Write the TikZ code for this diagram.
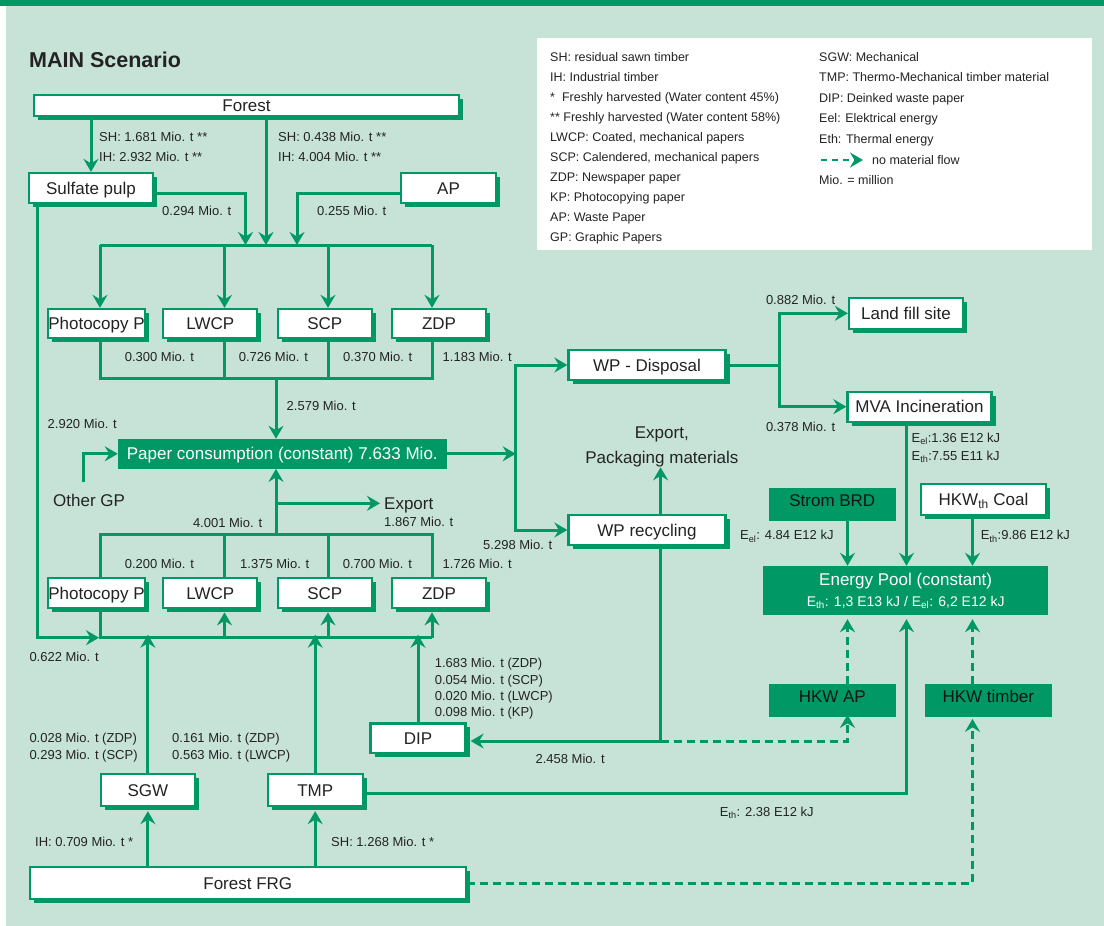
\documentclass[tikz,border=0pt]{standalone}
\usepackage{fontspec}
\setmainfont{Liberation Sans}
\usetikzlibrary{arrows.meta,shadows}
\definecolor{dgreen}{RGB}{0,153,102}
\definecolor{lbg}{RGB}{199,227,216}
\definecolor{txt}{RGB}{35,35,35}
\definecolor{dtxt}{RGB}{20,20,20}
\begin{document}
\begin{tikzpicture}[x=1pt,y=-1pt,
  wbox/.style={draw=dgreen, line width=2.3pt, fill=white, inner sep=0pt,
    general shadow={fill=dgreen, shadow xshift=4pt, shadow yshift=-4pt},
    font=\fontsize{17}{20}\selectfont, text=txt, text height=12pt, text depth=0pt},
  gbox/.style={fill=dgreen, inner sep=0pt, font=\fontsize{17}{20}\selectfont, text=dtxt, text height=12pt, text depth=0pt},
  big/.style={inner sep=0pt, font=\fontsize{17}{20}\selectfont, text=txt, text height=12pt, text depth=0pt},
  lab/.style={anchor=west, inner sep=0pt, font=\fontsize{13}{16}\selectfont, text=txt, text height=9.5pt, text depth=0pt},
  lg/.style={anchor=west, inner sep=0pt, font=\fontsize{12.5}{15}\selectfont, text=txt, text height=9pt, text depth=0pt},
  ln/.style={draw=dgreen, line width=3pt},
  arr/.style={draw=dgreen, line width=3pt, -{Stealth[length=13pt,width=15pt,inset=4.5pt]}},
  dsh/.style={dash pattern=on 8pt off 5pt}
]
\useasboundingbox (0,0) rectangle (1104,926);
\fill[white] (0,0) rectangle (1104,926);
\fill[lbg] (6,6) rectangle (1104,926);
\fill[dgreen] (0,0) rectangle (1104,6);

% title
\node[anchor=west, inner sep=0pt, font=\bfseries\fontsize{21.5}{26}\selectfont, text=txt, text height=15.5pt, text depth=0pt] (title) at (29,60) {MAIN Scenario};

% legend
\fill[white] (537,38) rectangle (1092,250);
\foreach \lbl [count=\i] in {{SH: residual sawn timber},{IH: Industrial timber},{*\ \ Freshly harvested (Water content 45\%)},{** Freshly harvested (Water content 58\%)},{LWCP: Coated, mechanical papers},{SCP: Calendered, mechanical papers},{ZDP: Newspaper paper},{KP: Photocopying paper},{AP: Waste Paper},{GP: Graphic Papers}}
  \node[lg] (lgl\i) at (550,{57+20*(\i-1)}) {\lbl};
\foreach \yy/\lbl [count=\i] in {57/{SGW: Mechanical},77/{TMP: Thermo-Mechanical timber material},98/{DIP: Deinked waste paper},118/{Eel: Elektrical energy},139/{Eth: Thermal energy},180/{Mio. = million}}
  \node[lg] (lgr\i) at (819,\yy) {\lbl};
\coordinate (lga) at (821,160);
\coordinate (lgb) at (863,160);
\draw[arr, dsh, line width=2.3pt, dash pattern=on 6pt off 5pt] (lga) -- (lgb);
\node[lg] (lgr7) at (872,160) {no material flow};

% boxes
\node[wbox, minimum width=425pt, minimum height=21pt] (forest) at (246.5,105.5) {Forest};
\node[wbox, minimum width=124pt, minimum height=30pt] (sulf) at (91,188) {Sulfate pulp};
\node[wbox, minimum width=95pt, minimum height=30pt] (ap) at (448.5,188) {AP};

\node[wbox, minimum width=95pt, minimum height=29pt] (pp1) at (96.5,323.5) {Photocopy P};
\node[wbox, minimum width=94pt, minimum height=29pt] (lw1) at (210.3,323.5) {LWCP};
\node[wbox, minimum width=94pt, minimum height=29pt] (scp1) at (324.8,323.5) {SCP};
\node[wbox, minimum width=94pt, minimum height=29pt] (zdp1) at (439,323.5) {ZDP};

\node[fill=dgreen, inner sep=0pt, minimum width=328.6pt, minimum height=29.7pt, text=white, font=\fontsize{17}{20}\selectfont, text height=12pt, text depth=0pt] (pc) at (282.3,453.8) {Paper consumption (constant) 7.633 Mio.};
\node[big, anchor=west] (othergp) at (53,500.7) {Other GP};
\node[big, anchor=west] (export) at (384,503.3) {Export};

\node[wbox, minimum width=95pt, minimum height=30pt] (pp2) at (96.5,593.2) {Photocopy P};
\node[wbox, minimum width=94pt, minimum height=30pt] (lw2) at (210.3,593.2) {LWCP};
\node[wbox, minimum width=94pt, minimum height=30pt] (scp2) at (324.8,593.2) {SCP};
\node[wbox, minimum width=94pt, minimum height=30pt] (zdp2) at (439,593.2) {ZDP};

\node[wbox, minimum width=95pt, minimum height=29.7pt] (dip) at (418,738.2) {DIP};
\node[wbox, minimum width=94pt, minimum height=32pt] (sgw) at (147.9,790) {SGW};
\node[wbox, minimum width=95pt, minimum height=32pt] (tmp) at (315.2,790) {TMP};
\node[wbox, minimum width=436pt, minimum height=32.6pt] (ffrg) at (247.8,883) {Forest FRG};

\node[wbox, minimum width=157pt, minimum height=30pt] (wpd) at (647,365) {WP - Disposal};
\node[wbox, minimum width=157pt, minimum height=30pt] (wpr) at (647,530) {WP recycling};
\node[big, align=center, font=\fontsize{17}{25}\selectfont, text height=, text depth=] (exppack) at (661.8,447) {Export,\\Packaging materials};

\node[wbox, minimum width=114pt, minimum height=31pt] (land) at (906,313.3) {Land fill site};
\node[wbox, minimum width=144pt, minimum height=30pt] (mva) at (919.5,406.7) {MVA Incineration};

\node[gbox, minimum width=126.6pt, minimum height=32.2pt] (strom) at (832.3,504.4) {\color{dtxt}\raisebox{4pt}{Strom BRD}};
\node[wbox, minimum width=125pt, minimum height=31pt] (coal) at (983.5,499.7) {HKW\textsubscript{th} Coal};
\node[fill=dgreen, inner sep=0pt, minimum width=285pt, minimum height=49pt] (pool) at (905.2,590.5) {};
\node[inner sep=0pt, text=white, font=\fontsize{17}{20}\selectfont, text height=12pt, text depth=0pt] (poolt1) at (905.7,579.3) {Energy Pool (constant)};
\node[inner sep=0pt, text=white, font=\fontsize{14}{16}\selectfont, text height=10pt, text depth=0pt] (poolt2) at (905.7,601.7) {E\textsubscript{th}: 1,3 E13 kJ / E\textsubscript{el}: 6,2 E12 kJ};
\node[gbox, minimum width=126.6pt, minimum height=32.7pt] (hkwap) at (832.3,700.3) {\color{dtxt}\raisebox{4pt}{HKW AP}};
\node[gbox, minimum width=126.7pt, minimum height=32.7pt] (hkwt) at (988.3,700.3) {\color{dtxt}\raisebox{4pt}{HKW timber}};

% coordinates
\coordinate (a245) at (245.5,245);
\coordinate (a266) at (266,245);
\coordinate (a297) at (297,245);
\coordinate (t1) at (100,245);
\coordinate (t2) at (224.5,245);
\coordinate (t3) at (328,245);
\coordinate (t4) at (432,245);
\coordinate (b1) at (100,378);
\coordinate (b4) at (432,378);
\coordinate (bm) at (276,378);
\coordinate (u1) at (100,534.3);
\coordinate (u4) at (432,534.3);
\coordinate (um) at (276,534.3);
\coordinate (ue) at (276,503.3);
\coordinate (d0) at (37,637.7);
\coordinate (d1) at (100,637.7);
\coordinate (d2) at (224.5,637.7);
\coordinate (d3) at (328,637.7);
\coordinate (d4) at (432,637.7);
\coordinate (og) at (83.7,482);
\coordinate (jv) at (515.7,453.8);
\coordinate (jd) at (779,365);
\coordinate (wprd) at (660.6,741);
\coordinate (k1) at (847.5,741);
\coordinate (k2) at (906.5,793.3);
\coordinate (k3) at (972.5,883);

% top part
\draw[arr] (sulf.north |- forest.south) -- (sulf.north);
\draw[arr] (forest.south -| a266) -- (a266);
\draw[arr] ([yshift=-5pt]sulf.east) -| (a245);
\draw[arr] ([yshift=-5pt]ap.west) -| (a297);
\draw[ln] (t1) -- (t4);
\draw[arr] (t1) -- (t1 |- pp1.north);
\draw[arr] (t2) -- (t2 |- lw1.north);
\draw[arr] (t3) -- (t3 |- scp1.north);
\draw[arr] (t4) -- (t4 |- zdp1.north);
\draw[ln] (b1 |- pp1.south) -- (b1) -- (b4) -- (b4 |- zdp1.south);
\draw[ln] (t2 |- lw1.south) -- (t2 |- b1);
\draw[ln] (t3 |- scp1.south) -- (t3 |- b1);
\draw[arr] (bm) -- (bm |- pc.north);
\draw[arr] (og) |- (pc.west);
\draw[arr] (pc.east) -- (jv);
\draw[arr] (jv) |- (wpd.west);
\draw[arr] (jv) |- (wpr.west);

% second row
\draw[ln] (u1 |- pp2.north) -- (u1) -- (u4) -- (u4 |- zdp2.north);
\draw[ln] (t2 |- u1) -- (t2 |- lw2.north);
\draw[ln] (t3 |- u1) -- (t3 |- scp2.north);
\draw[arr] (um) -- (um |- pc.south);
\draw[arr] (ue) -- ([xshift=-4pt]export.west);
\draw[arr] (sulf.south -| d0) |- ([xshift=-1pt]d1);
\draw[ln] (pp2.south -| d1) -- (d1) -- (d4);
\draw[arr, shorten >=3pt] (d2) -- (d2 |- lw2.south);
\draw[arr, shorten >=3pt] (d3) -- (d3 |- scp2.south);
\draw[arr, shorten >=3pt] (d4) -- (d4 |- zdp2.south);
\draw[arr] (sgw.north) -- ([yshift=3pt]sgw.north |- d1);
\draw[arr] (tmp.north) -- ([yshift=3pt]tmp.north |- d1);
\draw[arr] (dip.north) -- ([yshift=3pt]dip.north |- d1);
\draw[arr, shorten >=4pt] (ffrg.north -| sgw.north) -- (sgw.south);
\draw[arr, shorten >=4pt] (ffrg.north -| tmp.north) -- (tmp.south);

% recycling / disposal
\draw[arr] (wpr.north -| wprd) -- (exppack.south -| wprd);
\draw[ln] (wpr.south -| wprd) -- (wprd);
\draw[arr, shorten >=4pt] (wprd) -- (dip.east |- wprd);
\draw[arr, dsh] (wprd) -| ([yshift=2pt]hkwap.south -| k1);
\draw[ln] (wpd.east) -- (jd);
\draw[arr] (jd) |- (land.west);
\draw[arr] (jd) |- (mva.west);

% energy
\draw[arr] (strom.south -| k1) -- (pool.north -| k1);
\draw[arr] (mva.south -| k2) -- (pool.north -| k2);
\draw[arr] (coal.south -| k3) -- (pool.north -| k3);
\draw[arr, dsh] (hkwap.north -| k1) -- ([yshift=-4pt]pool.south -| k1);
\draw[arr, dsh] (hkwt.north -| k3) -- ([yshift=-4pt]pool.south -| k3);
\draw[arr] ([yshift=-3pt]tmp.east) -| ([yshift=-4pt]pool.south -| k2);
\draw[arr, dsh] (ffrg.east) -| ([yshift=-2pt]hkwt.south -| k3);

% labels
\foreach \xx/\yy/\lbl [count=\i] in {
  99/137/{SH: 1.681 Mio. t **},
  99/157/{IH: 2.932 Mio. t **},
  278/137/{SH: 0.438 Mio. t **},
  278/157/{IH: 4.004 Mio. t **},
  162/211/{0.294 Mio. t},
  317/211/{0.255 Mio. t},
  124.6/357/{0.300 Mio. t},
  238.6/357/{0.726 Mio. t},
  343/357/{0.370 Mio. t},
  442.5/357/{1.183 Mio. t},
  286.5/405.7/{2.579 Mio. t},
  47.5/424/{2.920 Mio. t},
  192.8/522.7/{4.001 Mio. t},
  384/521.7/{1.867 Mio. t},
  483/545/{5.298 Mio. t},
  124.6/563.3/{0.200 Mio. t},
  240/563.3/{1.375 Mio. t},
  342.6/563.3/{0.700 Mio. t},
  442.5/563.3/{1.726 Mio. t},
  29.3/656.7/{0.622 Mio. t},
  434.6/662.7/{1.683 Mio. t (ZDP)},
  434.6/679.3/{0.054 Mio. t (SCP)},
  434.6/695.7/{0.020 Mio. t (LWCP)},
  434.6/711.7/{0.098 Mio. t (KP)},
  29.3/737.7/{0.028 Mio. t (ZDP)},
  29.3/755/{0.293 Mio. t (SCP)},
  172/737.7/{0.161 Mio. t (ZDP)},
  172/755/{0.563 Mio. t (LWCP)},
  535.4/759/{2.458 Mio. t},
  35/841.7/{IH: 0.709 Mio. t *},
  331/841.7/{SH: 1.268 Mio. t *},
  719.7/811.7/{E\textsubscript{th}: 2.38 E12 kJ},
  765.8/300/{0.882 Mio. t},
  765.8/426.7/{0.378 Mio. t},
  911.4/437.7/{E\textsubscript{el}:1.36 E12 kJ},
  911.4/455.7/{E\textsubscript{th}:7.55 E11 kJ},
  740/535/{E\textsubscript{el}: 4.84 E12 kJ},
  980.7/535/{E\textsubscript{th}:9.86 E12 kJ}}
  \node[lab] (lb\i) at (\xx,\yy) {\lbl};
\end{tikzpicture}
\end{document}
